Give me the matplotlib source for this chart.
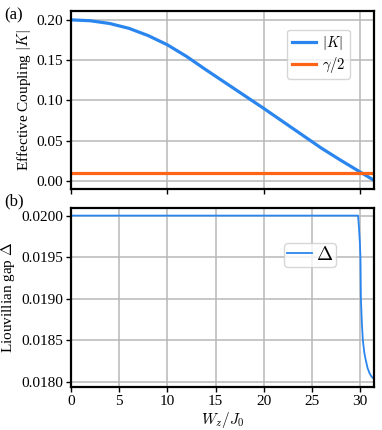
import numpy as np
import matplotlib
matplotlib.use('Agg')
import matplotlib.pyplot as plt

plt.rcParams['font.family'] = 'serif'
plt.rcParams['font.serif'] = ['Liberation Serif', 'DejaVu Serif']
plt.rcParams['mathtext.fontset'] = 'cm'

# effective coupling |K| vs W_z/J_0
w_k = [0, 2, 4, 6, 8, 10, 12, 14, 16, 18, 20, 22, 24, 26, 28, 30, 31.4]
k_abs = [0.2000, 0.1989, 0.1955, 0.1895, 0.1805, 0.1690, 0.1545, 0.1380, 0.1220,
         0.1060, 0.0900, 0.0735, 0.0570, 0.0405, 0.0255, 0.0110, 0.0010]
gamma_half = 0.01

# Liouvillian gap
w_gap = [0, 29.8, 29.9, 30.0, 30.05, 30.1, 30.2, 30.3, 30.45, 30.6, 30.8, 31.0, 31.2, 31.4]
gap = [0.02000, 0.02000, 0.01985, 0.01965, 0.01950, 0.01900, 0.01870, 0.01850,
       0.01835, 0.01826, 0.01816, 0.01810, 0.01806, 0.01804]

blue = '#2a86ee'
orange = '#ff6417'
xmax = 10 * np.pi

fig = plt.figure(figsize=(3.82, 4.30), dpi=100)
ax1 = fig.add_axes([0.186, 0.560, 0.792, 0.414])
ax2 = fig.add_axes([0.186, 0.099, 0.792, 0.417])

ax1.plot(w_k, k_abs, color=blue, lw=2.3, label=r'$|K|$')
ax1.axhline(gamma_half, color=orange, lw=2.3, label=r'$\gamma/2$')
ax1.set_xlim(0, xmax)
ax1.set_ylim(-0.0105, 0.2108)
ax1.set_yticks([0, 0.05, 0.1, 0.15, 0.2])
ax1.set_ylabel(r'Effective Coupling $|K|$', fontsize=11, labelpad=3)
ax1.tick_params(labelbottom=False)
ax1.legend(loc='upper right', bbox_to_anchor=(0.922, 0.897), borderaxespad=0,
           fontsize=10.5, handlelength=1.7, handletextpad=0.4, borderpad=0.3,
           labelspacing=0.2)

ax2.plot(w_gap, gap, color=blue, lw=1.3, label=r'$\Delta$')
ax2.set_xlim(0, xmax)
ax2.set_ylim(0.01793, 0.02009)
ax2.set_yticks([0.018, 0.0185, 0.019, 0.0195, 0.02])
ax2.set_yticklabels(['0.0180', '0.0185', '0.0190', '0.0195', '0.0200'])
ax2.set_xticks([0, 5, 10, 15, 20, 25, 30])
ax2.set_ylabel(r'Liouvillian gap $\Delta$', fontsize=11, labelpad=3)
ax2.set_xlabel(r'$W_z/J_0$', fontsize=11, labelpad=1.5)
ax2.legend(loc='upper right', bbox_to_anchor=(0.876, 0.806), borderaxespad=0,
           fontsize=14, handlelength=1.3, handletextpad=0.2, borderpad=0.15)

for ax in (ax1, ax2):
    ax.grid(True, color='#b8b8b8', lw=1.1)
    ax.set_axisbelow(True)
    for s in ax.spines.values():
        s.set_linewidth(1.6)
    ax.tick_params(labelsize=11, direction='out', length=3.5, width=1.0, pad=2)

fig.text(0.012, 0.955, '(a)', fontsize=12)
fig.text(0.012, 0.522, '(b)', fontsize=12)

plt.savefig('out.png', dpi=100)
